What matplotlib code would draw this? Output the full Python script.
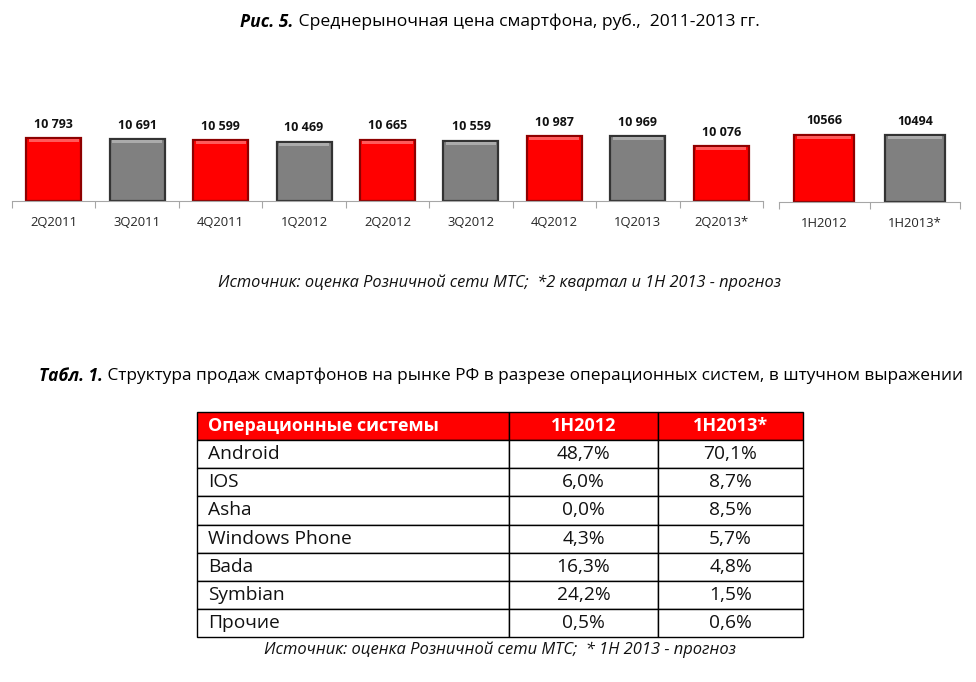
import numpy as np
import matplotlib.pyplot as plt

plt.rcParams['font.family'] = ['Open Sans', 'DejaVu Sans']

# chart data
quarters = ['2Q2011', '3Q2011', '4Q2011', '1Q2012', '2Q2012', '3Q2012',
            '4Q2012', '1Q2013', '2Q2013*']
quarter_prices = [10793, 10691, 10599, 10469, 10665, 10559, 10987, 10969, 10076]
halves = ['1H2012', '1H2013*']
half_prices = [10566, 10494]

# table data
table_header = ['Операционные системы', '1H2012', '1H2013*']
os_names = ['Android', 'IOS', 'Asha', 'Windows Phone', 'Bada', 'Symbian', 'Прочие']
share_2012 = ['48,7%', '6,0%', '0,0%', '4,3%', '16,3%', '24,2%', '0,5%']
share_2013 = ['70,1%', '8,7%', '8,5%', '5,7%', '4,8%', '1,5%', '0,6%']

RED = '#FF0000'
GREY = '#808080'
W, H = 976, 682
PX = 91  # price units per pixel in both bar panels

fig = plt.figure(figsize=(W / 100, H / 100), dpi=100)


def box(x0, y0, x1, y1):
    # pixel box with top-left origin -> figure fraction rect
    return [x0 / W, 1 - y1 / H, (x1 - x0) / W, (y1 - y0) / H]


def fmt(v, sep=' '):
    return f'{v:,}'.replace(',', sep)


def bar_panel(rect, labels, values, ylim, sep):
    ax = fig.add_axes(rect)
    x = np.arange(len(values))
    vals = np.array(values)
    colors = [RED if i % 2 == 0 else GREY for i in range(len(values))]
    edges = ['#8E0000' if c == RED else '#333333' for c in colors]
    lights = ['#FF5A5A' if c == RED else '#ABABAB' for c in colors]
    ax.bar(x, vals - ylim[0], bottom=ylim[0], width=0.66, color=colors,
           edgecolor=edges, linewidth=1.6, zorder=2)
    # light bevel band along the top of each bar
    ax.bar(x, 3 * PX, bottom=vals - 4 * PX, width=0.6, color=lights,
           linewidth=0, zorder=3)
    for xi, v in zip(x, values):
        ax.annotate(fmt(v, sep), (xi, v), xytext=(0, 10), textcoords='offset points',
                    ha='center', va='center', fontsize=9, fontweight='bold',
                    color='#111111')
    ax.set_xlim(-0.5, len(values) - 0.5)
    ax.set_ylim(*ylim)
    ax.set_xticks(np.arange(len(values) + 1) - 0.5)
    ax.set_xticklabels([])
    ax.set_xticks(x, minor=True)
    ax.set_xticklabels(labels, minor=True, fontsize=9.4, color='#262626')
    ax.tick_params(axis='x', which='major', length=5, color='#A6A6A6')
    ax.tick_params(axis='x', which='minor', length=0, pad=11)
    ax.set_yticks([])
    for s in ['top', 'left', 'right']:
        ax.spines[s].set_visible(False)
    ax.spines['bottom'].set_color('#A6A6A6')
    ax.patch.set_alpha(0)
    return ax


bar_panel(box(12, 90, 763, 201), quarters, quarter_prices, (5070, 5070 + 111 * PX), ' ')
bar_panel(box(779, 90, 960, 202), halves, half_prices, (4430, 4430 + 112 * PX), '')


def two_part(x, y, bold_part, rest, size, center=False):
    r = fig.canvas.get_renderer()
    t1 = fig.text(x / W, 1 - y / H, bold_part, fontsize=size, fontweight='bold',
                  fontstyle='italic', va='center', ha='left')
    t2 = fig.text(0, 1 - y / H, rest, fontsize=size, va='center', ha='left')
    w1 = t1.get_window_extent(r).width
    w2 = t2.get_window_extent(r).width
    if center:
        x = x - (w1 + w2) / 2
        t1.set_x(x / W)
    t2.set_x((x + w1) / W)


two_part(500, 22, 'Рис. 5.', ' Среднерыночная цена смартфона, руб.,  2011-2013 гг.', 12.6, center=True)
fig.text(500 / W, 1 - 283 / H, 'Источник: оценка Розничной сети МТС;  *2 квартал и 1H 2013 - прогноз',
         fontsize=11.8, fontstyle='italic', ha='center', va='center', color='#111111')
two_part(39, 376, 'Табл. 1.', ' Структура продаж смартфонов на рынке РФ в разрезе операционных систем, в штучном выражении',
         12.4)
fig.text(500 / W, 1 - 650 / H, 'Источник: оценка Розничной сети МТС;  * 1H 2013 - прогноз',
         fontsize=11.9, fontstyle='italic', ha='center', va='center', color='#111111')

# table
tax = fig.add_axes(box(197, 412, 803, 637))
tax.axis('off')
rows = [[n, a, b] for n, a, b in zip(os_names, share_2012, share_2013)]
col_w = np.array([312, 149, 145]) / 606
tbl = tax.table(cellText=rows, colLabels=table_header, colWidths=col_w,
                bbox=[0, 0, 1, 1], cellLoc='center')
tbl.auto_set_font_size(False)
tbl.set_fontsize(13.8)
for (r, c), cell in tbl.get_celld().items():
    cell.set_edgecolor('black')
    cell.set_linewidth(1)
    txt = cell.get_text()
    if c == 0:
        cell.PAD = 0.035
        txt.set_ha('left')
        cell._loc = 'left'
    if r == 0:
        cell.set_facecolor(RED)
        txt.set_color('white')
        txt.set_fontweight('bold')
        txt.set_fontsize(13)
    else:
        cell.set_facecolor('white')
        txt.set_color('#111111')

fig.savefig('out.png', dpi=100)
